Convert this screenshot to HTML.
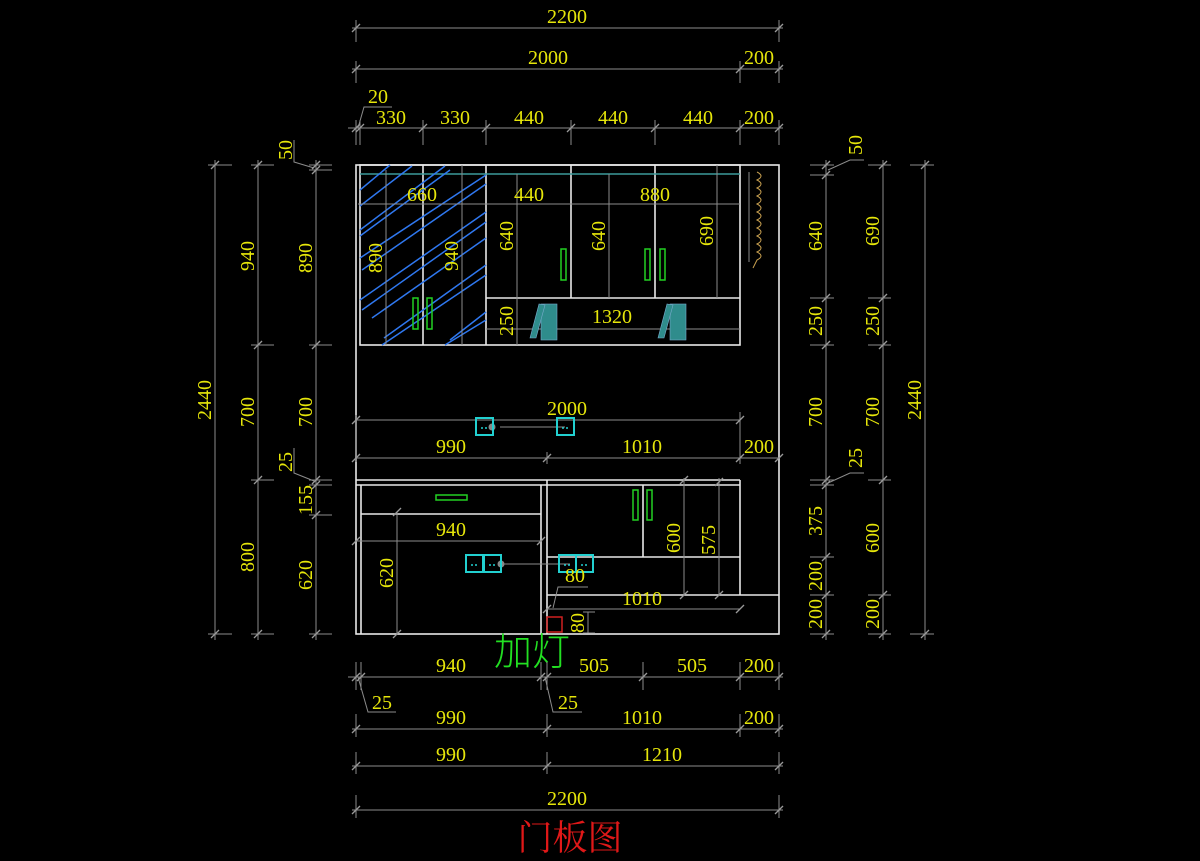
<!DOCTYPE html>
<html><head><meta charset="utf-8"><style>
html,body{margin:0;padding:0;background:#000;}
svg{display:block}
text{font-family:"Liberation Serif","Noto Serif CJK SC",serif;font-size:20px;fill:#e6e60a;}
.d{stroke:#8c8c8c;stroke-width:1;fill:none}
.w{stroke:#e8e8e8;stroke-width:1.6;fill:none}
</style></head><body>
<svg width="1200" height="861" viewBox="0 0 1200 861" xmlns="http://www.w3.org/2000/svg">
<defs><path id="tk" d="M-4,4 L4,-4" stroke="#9a9a9a" stroke-width="1.3"/></defs>

<!-- TOP DIMS -->
<g class="d">
<line x1="352" y1="28" x2="783" y2="28"/><line x1="356" y1="20" x2="356" y2="42"/><line x1="779" y1="20" x2="779" y2="42"/>
<line x1="352" y1="69" x2="783" y2="69"/><line x1="356" y1="61" x2="356" y2="83"/><line x1="740" y1="61" x2="740" y2="83"/><line x1="779" y1="61" x2="779" y2="83"/>
<line x1="348" y1="128" x2="783" y2="128"/>
<line x1="356" y1="120" x2="356" y2="145"/><line x1="360" y1="120" x2="360" y2="145"/><line x1="423" y1="120" x2="423" y2="145"/><line x1="486" y1="120" x2="486" y2="145"/><line x1="571" y1="120" x2="571" y2="145"/><line x1="655" y1="120" x2="655" y2="145"/><line x1="740" y1="120" x2="740" y2="145"/><line x1="779" y1="120" x2="779" y2="145"/>
<polyline points="358,128 364,107 392,107"/>
</g>
<g>
<use href="#tk" x="356" y="28"/><use href="#tk" x="779" y="28"/>
<use href="#tk" x="356" y="69"/><use href="#tk" x="740" y="69"/><use href="#tk" x="779" y="69"/>
<use href="#tk" x="356" y="128"/><use href="#tk" x="360" y="128"/><use href="#tk" x="423" y="128"/><use href="#tk" x="486" y="128"/><use href="#tk" x="571" y="128"/><use href="#tk" x="655" y="128"/><use href="#tk" x="740" y="128"/><use href="#tk" x="779" y="128"/>
</g>
<text x="567" y="23" text-anchor="middle">2200</text>
<text x="548" y="64" text-anchor="middle">2000</text>
<text x="759" y="64" text-anchor="middle">200</text>
<text x="378" y="103" text-anchor="middle">20</text>
<text x="391" y="124" text-anchor="middle">330</text>
<text x="455" y="124" text-anchor="middle">330</text>
<text x="529" y="124" text-anchor="middle">440</text>
<text x="613" y="124" text-anchor="middle">440</text>
<text x="698" y="124" text-anchor="middle">440</text>
<text x="759" y="124" text-anchor="middle">200</text>

<!-- LEFT DIMS -->
<g class="d">
<line x1="215" y1="160" x2="215" y2="640"/>
<line x1="258" y1="160" x2="258" y2="640"/>
<line x1="316" y1="160" x2="316" y2="640"/>
<line x1="208" y1="165" x2="232" y2="165"/><line x1="208" y1="634" x2="232" y2="634"/>
<line x1="251" y1="165" x2="274" y2="165"/><line x1="251" y1="345" x2="274" y2="345"/><line x1="251" y1="480" x2="274" y2="480"/><line x1="251" y1="634" x2="274" y2="634"/>
<line x1="309" y1="165" x2="332" y2="165"/><line x1="309" y1="170" x2="332" y2="170"/><line x1="309" y1="345" x2="332" y2="345"/><line x1="309" y1="480" x2="332" y2="480"/><line x1="309" y1="485" x2="332" y2="485"/><line x1="309" y1="515" x2="332" y2="515"/><line x1="309" y1="634" x2="332" y2="634"/>
<polyline points="294,140 294,162 314,168"/>
<polyline points="294,448 294,473 314,481"/>
</g>
<g>
<use href="#tk" x="215" y="165"/><use href="#tk" x="215" y="634"/>
<use href="#tk" x="258" y="165"/><use href="#tk" x="258" y="345"/><use href="#tk" x="258" y="480"/><use href="#tk" x="258" y="634"/>
<use href="#tk" x="316" y="165"/><use href="#tk" x="316" y="170"/><use href="#tk" x="316" y="345"/><use href="#tk" x="316" y="480"/><use href="#tk" x="316" y="485"/><use href="#tk" x="316" y="515"/><use href="#tk" x="316" y="634"/>
</g>
<text transform="translate(211,400) rotate(-90)" text-anchor="middle">2440</text>
<text transform="translate(254,256) rotate(-90)" text-anchor="middle">940</text>
<text transform="translate(254,412) rotate(-90)" text-anchor="middle">700</text>
<text transform="translate(254,557) rotate(-90)" text-anchor="middle">800</text>
<text transform="translate(292,150) rotate(-90)" text-anchor="middle">50</text>
<text transform="translate(312,258) rotate(-90)" text-anchor="middle">890</text>
<text transform="translate(312,412) rotate(-90)" text-anchor="middle">700</text>
<text transform="translate(292,462) rotate(-90)" text-anchor="middle">25</text>
<text transform="translate(312,500) rotate(-90)" text-anchor="middle">155</text>
<text transform="translate(312,575) rotate(-90)" text-anchor="middle">620</text>

<!-- RIGHT DIMS -->
<g class="d">
<line x1="826" y1="160" x2="826" y2="640"/>
<line x1="883" y1="160" x2="883" y2="640"/>
<line x1="925" y1="160" x2="925" y2="640"/>
<line x1="810" y1="165" x2="834" y2="165"/><line x1="810" y1="175" x2="834" y2="175"/><line x1="810" y1="298" x2="834" y2="298"/><line x1="810" y1="345" x2="834" y2="345"/><line x1="810" y1="480" x2="834" y2="480"/><line x1="810" y1="485" x2="834" y2="485"/><line x1="810" y1="557" x2="834" y2="557"/><line x1="810" y1="595" x2="834" y2="595"/><line x1="810" y1="634" x2="834" y2="634"/>
<line x1="868" y1="165" x2="891" y2="165"/><line x1="868" y1="298" x2="891" y2="298"/><line x1="868" y1="345" x2="891" y2="345"/><line x1="868" y1="480" x2="891" y2="480"/><line x1="868" y1="595" x2="891" y2="595"/><line x1="868" y1="634" x2="891" y2="634"/>
<line x1="910" y1="165" x2="934" y2="165"/><line x1="910" y1="634" x2="934" y2="634"/>
<polyline points="828,170 850,160 864,160"/>
<polyline points="828,483 850,473 864,473"/>
</g>
<g>
<use href="#tk" x="826" y="165"/><use href="#tk" x="826" y="175"/><use href="#tk" x="826" y="298"/><use href="#tk" x="826" y="345"/><use href="#tk" x="826" y="480"/><use href="#tk" x="826" y="485"/><use href="#tk" x="826" y="557"/><use href="#tk" x="826" y="595"/><use href="#tk" x="826" y="634"/>
<use href="#tk" x="883" y="165"/><use href="#tk" x="883" y="298"/><use href="#tk" x="883" y="345"/><use href="#tk" x="883" y="480"/><use href="#tk" x="883" y="595"/><use href="#tk" x="883" y="634"/>
<use href="#tk" x="925" y="165"/><use href="#tk" x="925" y="634"/>
</g>
<text transform="translate(862,145) rotate(-90)" text-anchor="middle">50</text>
<text transform="translate(822,236) rotate(-90)" text-anchor="middle">640</text>
<text transform="translate(822,321) rotate(-90)" text-anchor="middle">250</text>
<text transform="translate(822,412) rotate(-90)" text-anchor="middle">700</text>
<text transform="translate(862,458) rotate(-90)" text-anchor="middle">25</text>
<text transform="translate(822,521) rotate(-90)" text-anchor="middle">375</text>
<text transform="translate(822,576) rotate(-90)" text-anchor="middle">200</text>
<text transform="translate(822,614) rotate(-90)" text-anchor="middle">200</text>
<text transform="translate(879,231) rotate(-90)" text-anchor="middle">690</text>
<text transform="translate(879,321) rotate(-90)" text-anchor="middle">250</text>
<text transform="translate(879,412) rotate(-90)" text-anchor="middle">700</text>
<text transform="translate(879,538) rotate(-90)" text-anchor="middle">600</text>
<text transform="translate(879,614) rotate(-90)" text-anchor="middle">200</text>
<text transform="translate(921,400) rotate(-90)" text-anchor="middle">2440</text>

<!-- CABINET -->
<g class="w">
<rect x="356" y="165" width="423" height="469"/>
<rect x="360" y="165" width="380" height="180"/>
<line x1="423" y1="165" x2="423" y2="345"/>
<line x1="486" y1="165" x2="486" y2="345"/>
<line x1="571" y1="165" x2="571" y2="298"/>
<line x1="655" y1="165" x2="655" y2="298"/>
<line x1="486" y1="298" x2="740" y2="298"/>
<line x1="356" y1="480" x2="740" y2="480"/>
<line x1="356" y1="485" x2="740" y2="485"/>
<line x1="361" y1="485" x2="361" y2="634"/>
<line x1="541" y1="485" x2="541" y2="634"/>
<line x1="547" y1="480" x2="547" y2="634"/>
<line x1="740" y1="480" x2="740" y2="595"/>
<line x1="361" y1="514" x2="541" y2="514"/>
<line x1="643" y1="485" x2="643" y2="557"/>
<line x1="547" y1="557" x2="740" y2="557"/>
<line x1="547" y1="595" x2="779" y2="595"/>
</g>
<line x1="360" y1="174" x2="740" y2="174" stroke="#3c9a9a" stroke-width="1.5"/>

<!-- blue glass hatching -->
<g stroke="#2f78f0" stroke-width="1.5">
<line x1="360" y1="190" x2="390" y2="165"/><line x1="360" y1="206" x2="412" y2="166"/>
<line x1="360" y1="230" x2="445" y2="166"/><line x1="360" y1="236" x2="450" y2="170"/>
<line x1="360" y1="258" x2="486" y2="175"/><line x1="362" y1="270" x2="486" y2="184"/>
<line x1="360" y1="300" x2="486" y2="212"/><line x1="362" y1="310" x2="486" y2="222"/>
<line x1="372" y1="318" x2="486" y2="238"/><line x1="382" y1="345" x2="486" y2="275"/>
<line x1="384" y1="338" x2="486" y2="265"/><line x1="445" y1="345" x2="486" y2="320"/>
<line x1="450" y1="340" x2="486" y2="312"/>
</g>
<g class="d">
<line x1="358" y1="204" x2="486" y2="204"/>
<line x1="386" y1="170" x2="386" y2="345"/>
<line x1="462" y1="165" x2="462" y2="345"/>
<line x1="517" y1="174" x2="517" y2="345"/>
<line x1="486" y1="204" x2="740" y2="204"/>
<line x1="609" y1="174" x2="609" y2="298"/>
<line x1="717" y1="165" x2="717" y2="298"/>
<line x1="486" y1="329" x2="740" y2="329"/>
</g>
<text x="422" y="201" text-anchor="middle">660</text>
<text x="529" y="201" text-anchor="middle">440</text>
<text x="655" y="201" text-anchor="middle">880</text>
<text transform="translate(382,258) rotate(-90)" text-anchor="middle">890</text>
<text transform="translate(458,256) rotate(-90)" text-anchor="middle">940</text>
<text transform="translate(513,236) rotate(-90)" text-anchor="middle">640</text>
<text transform="translate(605,236) rotate(-90)" text-anchor="middle">640</text>
<text transform="translate(713,231) rotate(-90)" text-anchor="middle">690</text>
<text transform="translate(513,321) rotate(-90)" text-anchor="middle">250</text>
<text x="612" y="323" text-anchor="middle">1320</text>

<!-- handles -->
<g stroke="#22d022" stroke-width="1.5" fill="none">
<rect x="413" y="298" width="5" height="31"/><rect x="427" y="298" width="5" height="31"/>
<rect x="561" y="249" width="5" height="31"/><rect x="645" y="249" width="5" height="31"/><rect x="660" y="249" width="5" height="31"/>
<rect x="436" y="495" width="31" height="5"/>
<rect x="633" y="490" width="5" height="30"/><rect x="647" y="490" width="5" height="30"/>
</g>
<!-- books -->
<g fill="#2f8c8c" stroke="#7ac" stroke-width="0.6">
<rect x="541" y="304" width="16" height="36"/><polygon points="530,338 536,338 545,305 539,304"/>
<rect x="670" y="304" width="16" height="36"/><polygon points="658,338 664,338 673,305 667,304"/>
</g>
<!-- hanging thing -->
<g stroke="#c8a050" stroke-width="1" fill="none">
<path d="M757,172 q8,4 0,8 q8,4 0,8 q8,4 0,8 q8,4 0,8 q8,4 0,8 q8,4 0,8 q8,4 0,8 q8,4 0,8 q8,4 0,8 q8,4 0,8 q8,4 0,8 l-4,8"/>
<path d="M749,172 l0,90" stroke="#888"/>
</g>

<!-- middle dims -->
<g class="d">
<line x1="356" y1="420" x2="740" y2="420"/>
<line x1="356" y1="458" x2="779" y2="458"/>
<line x1="356" y1="415" x2="356" y2="462"/>
<line x1="547" y1="452" x2="547" y2="464"/>
<line x1="740" y1="412" x2="740" y2="464"/>
<line x1="356" y1="541" x2="541" y2="541"/>
<line x1="397" y1="512" x2="397" y2="634"/>
<line x1="684" y1="478" x2="684" y2="595"/>
<line x1="719" y1="478" x2="719" y2="595"/>
<line x1="547" y1="609" x2="740" y2="609"/>
<line x1="500" y1="427" x2="565" y2="427"/>
<line x1="500" y1="564" x2="570" y2="564"/>
<polyline points="553,608 558,587 588,587"/>
<line x1="583" y1="612" x2="595" y2="612"/><line x1="583" y1="633" x2="595" y2="633"/><line x1="588" y1="612" x2="588" y2="633"/>
</g>
<g>
<use href="#tk" x="356" y="420"/><use href="#tk" x="740" y="420"/>
<use href="#tk" x="356" y="458"/><use href="#tk" x="547" y="458"/><use href="#tk" x="740" y="458"/><use href="#tk" x="779" y="458"/>
<use href="#tk" x="356" y="541"/><use href="#tk" x="541" y="541"/>
<use href="#tk" x="397" y="512"/><use href="#tk" x="397" y="634"/>
<use href="#tk" x="684" y="480"/><use href="#tk" x="684" y="595"/>
<use href="#tk" x="719" y="482"/><use href="#tk" x="719" y="595"/>
<use href="#tk" x="547" y="609"/><use href="#tk" x="740" y="609"/>
</g>
<circle cx="492" cy="427" r="3.5" fill="#888"/><circle cx="501" cy="564" r="3.5" fill="#888"/>
<g stroke="#22d0d0" stroke-width="2" fill="none">
<rect x="476" y="418" width="17" height="17"/><rect x="557" y="418" width="17" height="17"/>
<rect x="466" y="555" width="17" height="17"/><rect x="484" y="555" width="17" height="17"/>
<rect x="559" y="555" width="17" height="17"/><rect x="576" y="555" width="17" height="17"/>
</g>
<g fill="#22d0d0">
<circle cx="482" cy="428" r="1"/><circle cx="486" cy="428" r="1"/><circle cx="563" cy="428" r="1"/><circle cx="567" cy="428" r="1"/>
<circle cx="472" cy="565" r="1"/><circle cx="476" cy="565" r="1"/><circle cx="490" cy="565" r="1"/><circle cx="494" cy="565" r="1"/>
<circle cx="565" cy="565" r="1"/><circle cx="569" cy="565" r="1"/><circle cx="582" cy="565" r="1"/><circle cx="586" cy="565" r="1"/>
</g>
<rect x="547" y="617" width="15" height="15" fill="none" stroke="#d02020" stroke-width="1.5"/>
<text x="567" y="415" text-anchor="middle">2000</text>
<text x="451" y="453" text-anchor="middle">990</text>
<text x="642" y="453" text-anchor="middle">1010</text>
<text x="759" y="453" text-anchor="middle">200</text>
<text x="451" y="536" text-anchor="middle">940</text>
<text transform="translate(393,573) rotate(-90)" text-anchor="middle">620</text>
<text transform="translate(680,538) rotate(-90)" text-anchor="middle">600</text>
<text transform="translate(715,540) rotate(-90)" text-anchor="middle">575</text>
<text x="575" y="582" text-anchor="middle">80</text>
<text x="642" y="605" text-anchor="middle">1010</text>
<text transform="translate(584,623) rotate(-90)" text-anchor="middle">80</text>
<text x="532" y="665" text-anchor="middle" style="fill:#22e022;font-size:38px;font-family:'Noto Sans CJK SC',sans-serif;font-weight:300">加灯</text>

<!-- BOTTOM DIMS -->
<g class="d">
<line x1="348" y1="677" x2="783" y2="677"/>
<line x1="356" y1="662" x2="356" y2="690"/><line x1="361" y1="662" x2="361" y2="690"/><line x1="541" y1="662" x2="541" y2="690"/><line x1="547" y1="662" x2="547" y2="690"/><line x1="643" y1="662" x2="643" y2="690"/><line x1="740" y1="662" x2="740" y2="690"/><line x1="779" y1="662" x2="779" y2="690"/>
<polyline points="358,677 368,712 396,712"/>
<polyline points="545,677 553,712 582,712"/>
<line x1="352" y1="729" x2="783" y2="729"/>
<line x1="356" y1="714" x2="356" y2="737"/><line x1="547" y1="714" x2="547" y2="737"/><line x1="740" y1="714" x2="740" y2="737"/><line x1="779" y1="714" x2="779" y2="737"/>
<line x1="352" y1="766" x2="783" y2="766"/>
<line x1="356" y1="752" x2="356" y2="774"/><line x1="547" y1="752" x2="547" y2="774"/><line x1="779" y1="752" x2="779" y2="774"/>
<line x1="352" y1="810" x2="783" y2="810"/>
<line x1="356" y1="795" x2="356" y2="818"/><line x1="779" y1="795" x2="779" y2="818"/>
</g>
<g>
<use href="#tk" x="356" y="677"/><use href="#tk" x="361" y="677"/><use href="#tk" x="541" y="677"/><use href="#tk" x="547" y="677"/><use href="#tk" x="643" y="677"/><use href="#tk" x="740" y="677"/><use href="#tk" x="779" y="677"/>
<use href="#tk" x="356" y="729"/><use href="#tk" x="547" y="729"/><use href="#tk" x="740" y="729"/><use href="#tk" x="779" y="729"/>
<use href="#tk" x="356" y="766"/><use href="#tk" x="547" y="766"/><use href="#tk" x="779" y="766"/>
<use href="#tk" x="356" y="810"/><use href="#tk" x="779" y="810"/>
</g>
<text x="451" y="672" text-anchor="middle">940</text>
<text x="594" y="672" text-anchor="middle">505</text>
<text x="692" y="672" text-anchor="middle">505</text>
<text x="759" y="672" text-anchor="middle">200</text>
<text x="382" y="709" text-anchor="middle">25</text>
<text x="568" y="709" text-anchor="middle">25</text>
<text x="451" y="724" text-anchor="middle">990</text>
<text x="642" y="724" text-anchor="middle">1010</text>
<text x="759" y="724" text-anchor="middle">200</text>
<text x="451" y="761" text-anchor="middle">990</text>
<text x="662" y="761" text-anchor="middle">1210</text>
<text x="567" y="805" text-anchor="middle">2200</text>
<text x="570" y="850" text-anchor="middle" style="fill:#e01818;font-size:35px;font-family:'Noto Serif CJK SC',serif">门板图</text>
</svg>
</body></html>
